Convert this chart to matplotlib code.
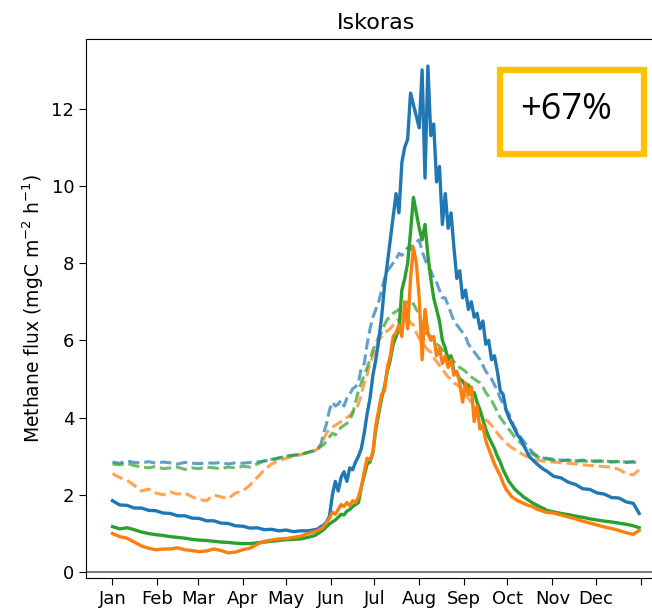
import numpy as np
import matplotlib.pyplot as plt
from matplotlib.patches import Rectangle

# Dias do ano (mais densos no verão, onde o fluxo varia mais)
dias = np.r_[0:140:5, 140:300:2, 300:365:5, 364]

meses = ['Jan', 'Feb', 'Mar', 'Apr', 'May', 'Jun', 'Jul', 'Aug', 'Sep', 'Oct', 'Nov', 'Dec', '']
inicio_mes = [0, 31, 59, 90, 120, 151, 181, 212, 243, 273, 304, 334, 365]

# Fluxo de metano simulado (mgC m-2 h-1) - linhas cheias
fluxo_azul = [
    1.85, 1.74, 1.73, 1.66, 1.66, 1.6, 1.59, 1.53, 1.52, 1.46, 1.46, 1.4, 1.39, 1.33,
    1.33, 1.27, 1.26, 1.2, 1.19, 1.14, 1.15, 1.1, 1.11, 1.07, 1.09, 1.05, 1.07, 1.07,
    1.10, 1.12, 1.18, 1.22, 1.30, 1.45, 2.0, 2.35, 2.1, 2.45, 2.6, 2.35, 2.7, 2.65,
    2.85, 3.0, 3.2, 3.6, 4.1, 4.5, 5.1, 5.5, 6.0, 6.6, 7.4, 8.0, 8.6, 9.2,
    9.8, 9.3, 10.6, 11.0, 11.2, 12.4, 12.1, 11.8, 11.5, 13.0, 10.2, 13.1, 11.3, 11.6,
    10.1, 10.5, 9.0, 9.8, 8.9, 9.3, 8.4, 7.6, 7.8, 7.1, 7.3, 6.8, 7.0, 6.6,
    6.7, 6.3, 6.5, 5.9, 6.0, 5.5, 5.6, 5.2, 4.7, 4.6, 4.2, 4.0, 3.85, 3.7,
    3.55, 3.45, 3.3, 3.15, 3.0, 2.92, 2.85, 2.78, 2.72, 2.66,
    2.62, 2.48, 2.44, 2.33, 2.27, 2.16, 2.14, 2.05, 2.02, 1.93, 1.92, 1.82, 1.78, 1.52]
fluxo_laranja = [
    1.0, 0.92, 0.88, 0.78, 0.68, 0.62, 0.58, 0.6, 0.6, 0.63, 0.58, 0.56, 0.53, 0.55,
    0.6, 0.56, 0.5, 0.52, 0.58, 0.62, 0.72, 0.8, 0.83, 0.86, 0.87, 0.9, 0.93, 1.0,
    1.05, 1.08, 1.12, 1.18, 1.28, 1.4, 1.55, 1.5, 1.62, 1.75, 1.7, 1.8, 1.72, 1.85,
    1.8, 1.95, 2.2, 2.6, 2.95, 2.9, 3.1, 3.8, 4.2, 4.6, 4.7, 5.3, 5.6, 6.1,
    6.2, 6.4, 6.1, 7.0, 6.3, 7.6, 8.4, 8.0, 7.1, 5.5, 6.8, 6.2, 6.0, 6.1,
    5.6, 5.8, 5.4, 5.6, 5.3, 5.5, 5.1, 5.2, 4.9, 4.4, 4.9, 4.6, 4.8, 3.9,
    4.3, 3.7, 3.8, 3.4, 3.2, 3.0, 2.8, 2.65, 2.5, 2.3, 2.15, 2.05, 1.95, 1.9,
    1.85, 1.82, 1.78, 1.75, 1.72, 1.7, 1.66, 1.62, 1.6, 1.57,
    1.55, 1.53, 1.48, 1.43, 1.38, 1.32, 1.27, 1.22, 1.17, 1.13, 1.08, 1.02, 0.98, 1.08]
fluxo_verde = [
    1.18, 1.12, 1.15, 1.1, 1.04, 1.0, 0.97, 0.95, 0.92, 0.9, 0.88, 0.85, 0.83, 0.82,
    0.8, 0.78, 0.77, 0.75, 0.74, 0.74, 0.76, 0.78, 0.8, 0.82, 0.84, 0.85, 0.86, 0.9,
    0.95, 1.0, 1.05, 1.1, 1.18, 1.25, 1.3, 1.35, 1.42, 1.5, 1.48, 1.58, 1.62, 1.7,
    1.75, 1.8, 2.2, 2.5, 2.8, 2.85, 3.1, 3.7, 4.1, 4.5, 4.8, 5.2, 5.5, 5.9,
    6.1, 6.3, 7.3, 7.6, 8.0, 8.8, 9.7, 9.3, 8.9, 8.6, 9.0, 8.2, 7.6, 7.1,
    6.8, 6.5, 6.0, 5.8, 5.5, 5.6, 5.2, 5.15, 5.0, 4.95, 4.8, 4.85, 4.6, 4.65,
    4.4, 4.2, 3.95, 3.7, 3.5, 3.35, 3.2, 3.0, 2.85, 2.65, 2.5, 2.35, 2.25, 2.15,
    2.08, 2.02, 1.95, 1.9, 1.85, 1.8, 1.76, 1.72, 1.68, 1.65,
    1.6, 1.56, 1.52, 1.49, 1.45, 1.42, 1.38, 1.35, 1.32, 1.3, 1.27, 1.24, 1.2, 1.15]

# Linhas tracejadas
tracejado_azul = [
    2.85, 2.82, 2.88, 2.84, 2.83, 2.86, 2.82, 2.85, 2.83, 2.8, 2.84, 2.82, 2.81, 2.83,
    2.82, 2.84, 2.8, 2.83, 2.82, 2.84, 2.85, 2.88, 2.9, 2.95, 3.0, 3.02, 3.05, 3.1,
    3.15, 3.22, 3.3, 3.6, 3.85, 4.2, 4.4, 4.3, 4.35, 4.45, 4.3, 4.5, 4.6, 4.75,
    4.8, 4.9, 5.3, 5.4, 5.9, 6.3, 6.6, 6.8, 7.0, 7.3, 7.6, 7.8, 7.9, 8.0,
    8.1, 8.25, 8.2, 8.3, 8.4, 8.35, 8.5, 8.55, 8.6, 8.3, 8.1, 7.9, 7.8, 7.6,
    7.5, 7.3, 7.1, 7.1, 6.9, 6.7, 6.5, 6.4, 6.3, 6.2, 6.1, 5.9, 5.8, 5.7,
    5.6, 5.5, 5.35, 5.2, 5.1, 5.0, 4.85, 4.7, 4.5, 4.35, 4.2, 4.1, 3.9, 3.75,
    3.6, 3.5, 3.4, 3.3, 3.2, 3.12, 3.05, 3.0, 2.98, 2.95,
    2.95, 2.92, 2.9, 2.9, 2.88, 2.9, 2.88, 2.87, 2.88, 2.86, 2.87, 2.85, 2.86, 2.85]
tracejado_laranja = [
    2.55, 2.45, 2.38, 2.25, 2.1, 2.15, 2.05, 2.0, 2.08, 2.02, 2.05, 1.95, 1.88, 1.85,
    2.0, 1.95, 1.9, 2.05, 2.1, 2.25, 2.45, 2.65, 2.8, 2.88, 2.95, 3.0, 3.04, 3.1,
    3.15, 3.2, 3.3, 3.45, 3.6, 3.7, 3.75, 3.8, 3.85, 3.9, 3.95, 4.0, 4.05, 4.15,
    4.2, 4.35, 4.6, 4.9, 5.1, 5.4, 5.6, 5.8, 6.0, 6.1, 6.2, 6.25, 6.3, 6.4,
    6.5, 6.55, 6.6, 6.5, 6.6, 6.45, 6.4, 6.2, 6.05, 5.95, 5.85, 5.75, 5.7, 5.55,
    5.45, 5.35, 5.25, 5.15, 5.05, 5.0, 4.9, 4.85, 4.8, 4.7, 4.6, 4.5, 4.4, 4.3,
    4.22, 4.15, 4.05, 3.95, 3.88, 3.8, 3.7, 3.6, 3.5, 3.42, 3.35, 3.28, 3.22, 3.18,
    3.12, 3.08, 3.04, 3.0, 2.97, 2.94, 2.92, 2.9, 2.88, 2.87,
    2.86, 2.85, 2.83, 2.82, 2.8, 2.78, 2.76, 2.75, 2.73, 2.72, 2.66, 2.55, 2.52, 2.65]
tracejado_verde = [
    2.8, 2.78, 2.82, 2.76, 2.72, 2.7, 2.74, 2.68, 2.7, 2.72, 2.66, 2.7, 2.68, 2.72,
    2.7, 2.68, 2.72, 2.7, 2.74, 2.72, 2.8, 2.88, 2.92, 2.96, 3.0, 3.03, 3.05, 3.1,
    3.15, 3.2, 3.25, 3.3, 3.4, 3.5, 3.6, 3.55, 3.65, 3.75, 3.8, 3.85, 3.95, 4.1,
    4.4, 4.7, 4.9, 5.1, 5.3, 5.5, 5.75, 5.9, 6.1, 6.2, 6.4, 6.55, 6.6, 6.7,
    6.75, 6.8, 6.75, 6.9, 7.0, 6.85, 6.95, 6.8, 6.7, 6.4, 6.25, 6.15, 6.1, 6.0,
    5.9, 5.85, 5.75, 5.7, 5.6, 5.55, 5.45, 5.35, 5.3, 5.25, 5.2, 5.1, 5.05, 5.0,
    4.95, 4.9, 4.8, 4.65, 4.55, 4.45, 4.3, 4.15, 4.0, 3.9, 3.8, 3.7, 3.6, 3.5,
    3.42, 3.35, 3.28, 3.2, 3.12, 3.06, 3.02, 2.98, 2.96, 2.95,
    2.93, 2.9, 2.88, 2.9, 2.87, 2.88, 2.86, 2.88, 2.87, 2.85, 2.86, 2.84, 2.85, 2.82]

azul = '#1f77b4'
laranja = '#ff7f0e'
verde = '#2ca02c'

fig = plt.figure(figsize=(6.52, 6.12), dpi=100)
ax = fig.add_axes([0.132, 0.0556, 0.891, 0.8807])

# Tracejadas por baixo, cheias por cima
ax.plot(dias, tracejado_azul, '--', color=azul, alpha=0.7, lw=2.2)
ax.plot(dias, tracejado_laranja, '--', color=laranja, alpha=0.7, lw=2.2)
ax.plot(dias, tracejado_verde, '--', color=verde, alpha=0.7, lw=2.2)
ax.plot(dias, fluxo_azul, color=azul, lw=2.4)
ax.plot(dias, fluxo_verde, color=verde, lw=2.4)
ax.plot(dias, fluxo_laranja, color=laranja, lw=2.4)
ax.axhline(0, color='grey', lw=1.5)

ax.set_xlim(-18.25, 383.25)
ax.set_ylim(-0.15, 13.8)
ax.set_xticks(inicio_mes)
ax.set_xticklabels(meses)
ax.set_yticks([0, 2, 4, 6, 8, 10, 12])
ax.tick_params(labelsize=13, length=5)
ax.set_title('Iskoras', fontsize=16, pad=7)
ax.set_ylabel('Methane flux (mgC m$^{-2}$ h$^{-1}$)', fontsize=13.5)

# Caixa com o aumento percentual
fig.patches.append(Rectangle((500 / 652, 1 - 154 / 612), 144 / 652, 84 / 612,
                             transform=fig.transFigure, fill=False,
                             edgecolor='#ffc000', lw=4.5))
fig.text(520 / 652, 1 - 110 / 612, '+67%', fontsize=26, family='Open Sans',
         va='center', ha='left')

fig.savefig('out.png', dpi=100)
